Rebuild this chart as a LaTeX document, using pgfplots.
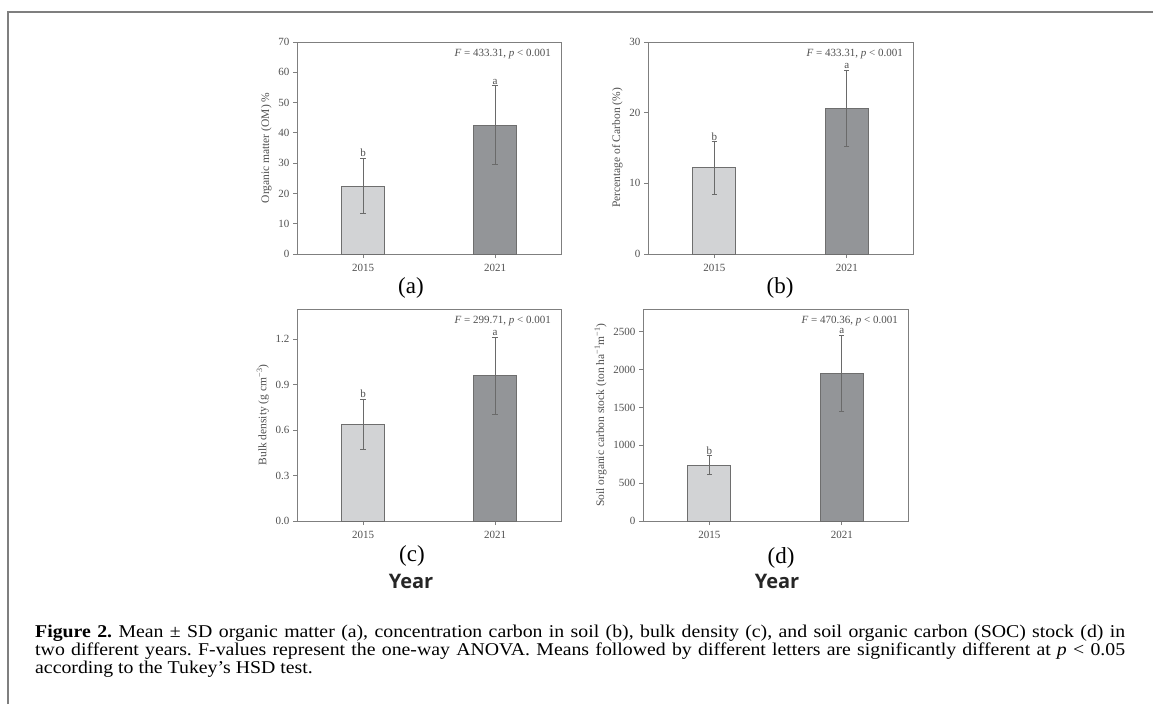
\documentclass[border=0pt]{standalone}
\usepackage{fontspec}
\setmainfont{Liberation Serif}
\newfontfamily\yearfont{Open Sans}
\newfontfamily\capfont{Liberation Serif}[FakeStretch=1.1]
\usepackage{pgfplots}
\pgfplotsset{compat=1.18}

\definecolor{axgray}{HTML}{7F7F7F}
\definecolor{txtgray}{HTML}{4F4F4F}
\definecolor{errgray}{HTML}{6A6A6A}
\definecolor{barlight}{HTML}{D2D3D5}
\definecolor{bardark}{HTML}{939598}
\definecolor{baredge}{HTML}{6E6E6E}

\pgfplotsset{
  panel/.style={
    scale only axis, width=264pt, height=212pt,
    anchor=south west,
    xmin=-0.5, xmax=1.5, ymin=0,
    xtick={0,1}, xticklabels={2015,2021},
    axis line style={axgray, line width=0.9pt},
    tick style={axgray, line width=0.8pt},
    major tick length=4pt,
    tick align=outside,
    tick pos=left,
    ticklabel style={font=\fontsize{11}{12}\selectfont, text=txtgray},
    xticklabel style={yshift=-3pt},
    ylabel style={font=\fontsize{11.5}{13}\selectfont, text=txtgray},
    /pgf/number format/assume math mode=true,
    ybar, bar width=43pt, bar shift=0pt,
    clip=false,
  },
  light/.style={fill=barlight, draw=baredge, line width=0.6pt,
    error bars/.cd, y dir=both, y explicit,
    error bar style={errgray, line width=0.55pt},
    error mark options={rotate=90, errgray, mark size=2.7pt, line width=0.55pt}},
  dark/.style={fill=bardark, draw=baredge, line width=0.6pt,
    error bars/.cd, y dir=both, y explicit,
    error bar style={errgray, line width=0.55pt},
    error mark options={rotate=90, errgray, mark size=2.7pt, line width=0.55pt}},
}
\tikzset{
  letter/.style={anchor=south, inner sep=1pt, text=txtgray, font=\fontsize{11}{12}\selectfont},
  stat/.style={anchor=base east, inner sep=0pt, text=txtgray, font=\fontsize{11}{12}\selectfont},
}

\begin{document}
\begin{tikzpicture}
\path[use as bounding box] (0,0) rectangle (1153pt,-704pt);
\draw[axgray, line width=1.3pt] (8pt,-704pt) -- (8pt,-12pt) -- (1153pt,-12pt);

% (a) organic matter
\begin{axis}[panel, at={(297pt,-254pt)}, ymax=70, ytick={0,10,...,70},
  ylabel={Organic matter (OM) \%}]
  \addplot[light] coordinates {(0,22.5) +- (0,9.1)};
  \addplot[dark] coordinates {(1,42.6) +- (0,13.0)};
  \node[letter] at (axis cs:0,31.6) {b};
  \node[letter] at (axis cs:1,55.6) {a};
  \node[stat] at ([xshift=-10pt,yshift=-14pt]rel axis cs:1,1) {\textit{F} = 433.31, \textit{p} < 0.001};
\end{axis}

% (b) carbon percentage
\begin{axis}[panel, at={(648pt,-254pt)}, width=265pt, ymax=30, ytick={0,10,20,30},
  ylabel={Percentage of Carbon (\%)}]
  \addplot[light] coordinates {(0,12.2) +- (0,3.7)};
  \addplot[dark] coordinates {(1,20.6) +- (0,5.4)};
  \node[letter] at (axis cs:0,15.9) {b};
  \node[letter] at (axis cs:1,26.0) {a};
  \node[stat] at ([xshift=-10pt,yshift=-14pt]rel axis cs:1,1) {\textit{F} = 433.31, \textit{p} < 0.001};
\end{axis}

% (c) bulk density
\begin{axis}[panel, at={(297pt,-521pt)}, ymax=1.4, ytick={0,0.3,0.6,0.9,1.2},
  yticklabel style={/pgf/number format/.cd, fixed, fixed zerofill, precision=1},
  ylabel={Bulk density (g cm\textsuperscript{−3})}]
  \addplot[light] coordinates {(0,0.64) +- (0,0.166)};
  \addplot[dark] coordinates {(1,0.96) +- (0,0.254)};
  \node[letter] at (axis cs:0,0.806) {b};
  \node[letter] at (axis cs:1,1.214) {a};
  \node[stat] at ([xshift=-10pt,yshift=-14pt]rel axis cs:1,1) {\textit{F} = 299.71, \textit{p} < 0.001};
\end{axis}

% (d) SOC stock
\begin{axis}[panel, at={(643pt,-521pt)}, width=265pt, ymax=2800, ytick={0,500,...,2500},
  yticklabel style={/pgf/number format/.cd, set thousands separator={}},
  ylabel={Soil organic carbon stock (ton ha\textsuperscript{−1}m\textsuperscript{−1})}]
  \addplot[light] coordinates {(0,740) +- (0,125)};
  \addplot[dark] coordinates {(1,1955) +- (0,500)};
  \node[letter] at (axis cs:0,865) {b};
  \node[letter] at (axis cs:1,2455) {a};
  \node[stat] at ([xshift=-10pt,yshift=-14pt]rel axis cs:1,1) {\textit{F} = 470.36, \textit{p} < 0.001};
\end{axis}

% panel labels
\begin{scope}[every node/.style={anchor=base, inner sep=0pt, font=\fontsize{23}{25}\selectfont}]
  \node at (411pt,-293pt) {(a)};
  \node at (780pt,-293pt) {(b)};
  \node at (412pt,-561pt) {(c)};
  \node at (781pt,-563pt) {(d)};
\end{scope}
\node[anchor=base, inner sep=0pt, font=\yearfont\bfseries\fontsize{20}{22}\selectfont, text=black!85] at (411pt,-588pt) {Year};
\node[anchor=base, inner sep=0pt, font=\yearfont\bfseries\fontsize{20}{22}\selectfont, text=black!85] at (777pt,-588pt) {Year};

% caption
\begin{scope}[every node/.style={anchor=base west, inner sep=0pt, font=\capfont\fontsize{18}{18}\selectfont\frenchspacing}]
  \node at (35pt,-637pt) {\makebox[1090pt][s]{\textbf{Figure 2.} Mean ± SD organic matter (a), concentration carbon in soil (b), bulk density (c), and soil organic carbon (SOC) stock (d) in}};
  \node at (35pt,-655pt) {\makebox[1090pt][s]{two different years. F-values represent the one-way ANOVA. Means followed by different letters are significantly different at \textit{p} < 0.05}};
  \node at (35pt,-673pt) {according to the Tukey’s HSD test.};
\end{scope}
\end{tikzpicture}
\end{document}
